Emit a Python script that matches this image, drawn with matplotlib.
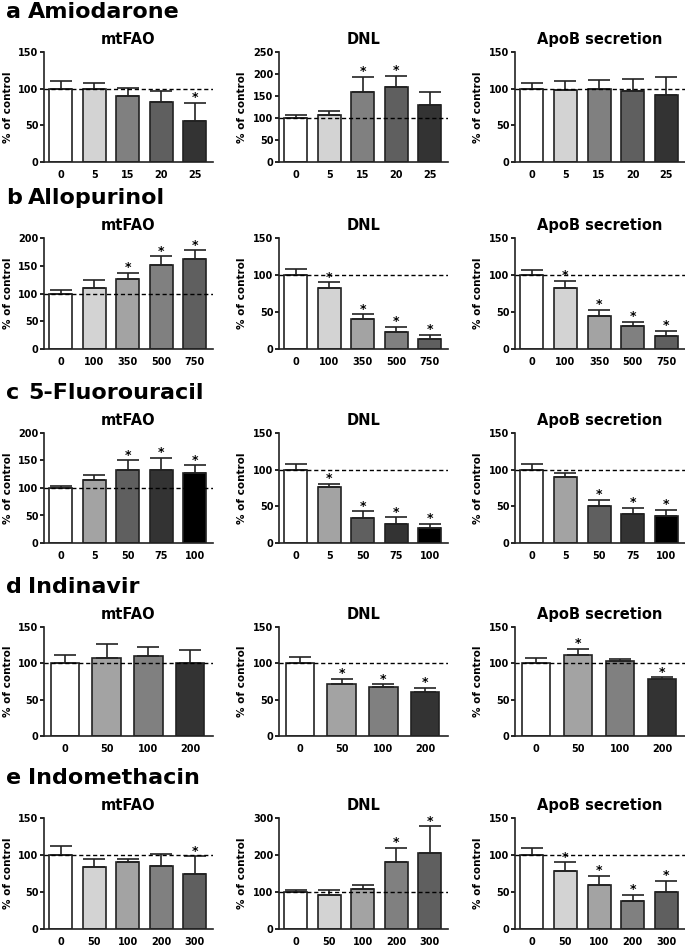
import matplotlib.pyplot as plt

# dose labels for each drug
amio_doses = ["0", "5", "15", "20", "25"]
allo_doses = ["0", "100", "350", "500", "750"]
fu_doses = ["0", "5", "50", "75", "100"]
indi_doses = ["0", "50", "100", "200"]
indo_doses = ["0", "50", "100", "200", "300"]

# mean % of control, upper error, significant (1) or not
amio_fao = [100, 100, 90, 82, 56]
amio_fao_err = [10, 8, 11, 15, 25]
amio_fao_sig = [0, 0, 0, 0, 1]
amio_dnl = [100, 107, 158, 171, 129]
amio_dnl_err = [7, 10, 35, 25, 30]
amio_dnl_sig = [0, 0, 1, 1, 0]
amio_apob = [100, 98, 99, 97, 92]
amio_apob_err = [8, 12, 13, 16, 24]
amio_apob_sig = [0, 0, 0, 0, 0]

allo_fao = [100, 110, 127, 152, 163]
allo_fao_err = [7, 15, 10, 15, 15]
allo_fao_sig = [0, 0, 1, 1, 1]
allo_dnl = [100, 82, 41, 23, 13]
allo_dnl_err = [8, 8, 6, 7, 6]
allo_dnl_sig = [0, 1, 1, 1, 1]
allo_apob = [100, 82, 44, 31, 18]
allo_apob_err = [7, 10, 9, 6, 7]
allo_apob_sig = [0, 1, 1, 1, 1]

fu_fao = [100, 115, 133, 132, 128]
fu_fao_err = [3, 8, 17, 23, 13]
fu_fao_sig = [0, 0, 1, 1, 1]
fu_dnl = [100, 77, 34, 26, 21]
fu_dnl_err = [8, 4, 9, 9, 5]
fu_dnl_sig = [0, 1, 1, 1, 1]
fu_apob = [100, 90, 50, 40, 37]
fu_apob_err = [8, 6, 9, 8, 8]
fu_apob_sig = [0, 0, 1, 1, 1]

indi_fao = [100, 107, 110, 100]
indi_fao_err = [12, 20, 12, 19]
indi_fao_sig = [0, 0, 0, 0]
indi_dnl = [100, 72, 67, 61]
indi_dnl_err = [9, 7, 4, 5]
indi_dnl_sig = [0, 1, 1, 1]
indi_apob = [100, 112, 103, 78]
indi_apob_err = [8, 8, 3, 3]
indi_apob_sig = [0, 1, 0, 1]

indo_fao = [100, 84, 91, 85, 75]
indo_fao_err = [12, 10, 4, 16, 23]
indo_fao_sig = [0, 0, 0, 0, 1]
indo_dnl = [100, 91, 108, 182, 205]
indo_dnl_err = [5, 15, 10, 37, 73]
indo_dnl_sig = [0, 0, 0, 1, 1]
indo_apob = [100, 78, 60, 38, 50]
indo_apob_err = [10, 12, 12, 8, 15]
indo_apob_sig = [0, 1, 1, 1, 1]

letters = ["a", "b", "c", "d", "e"]
drugs = ["Amiodarone", "Allopurinol", "5-Fluorouracil", "Indinavir", "Indomethacin"]
assays = ["mtFAO", "DNL", "ApoB secretion"]
doses = [amio_doses, allo_doses, fu_doses, indi_doses, indo_doses]
data = [
    [(amio_fao, amio_fao_err, amio_fao_sig), (amio_dnl, amio_dnl_err, amio_dnl_sig), (amio_apob, amio_apob_err, amio_apob_sig)],
    [(allo_fao, allo_fao_err, allo_fao_sig), (allo_dnl, allo_dnl_err, allo_dnl_sig), (allo_apob, allo_apob_err, allo_apob_sig)],
    [(fu_fao, fu_fao_err, fu_fao_sig), (fu_dnl, fu_dnl_err, fu_dnl_sig), (fu_apob, fu_apob_err, fu_apob_sig)],
    [(indi_fao, indi_fao_err, indi_fao_sig), (indi_dnl, indi_dnl_err, indi_dnl_sig), (indi_apob, indi_apob_err, indi_apob_sig)],
    [(indo_fao, indo_fao_err, indo_fao_sig), (indo_dnl, indo_dnl_err, indo_dnl_sig), (indo_apob, indo_apob_err, indo_apob_sig)],
]
ymax = [[150, 250, 150], [200, 150, 150], [200, 150, 150], [150, 150, 150], [150, 300, 150]]

# gray shades used for each drug's doses
grays = [
    ["white", "#d3d3d3", "#808080", "#5f5f5f", "#333333"],
    ["white", "#d3d3d3", "#a3a3a3", "#808080", "#5f5f5f"],
    ["white", "#a3a3a3", "#5f5f5f", "#333333", "black"],
    ["white", "#a3a3a3", "#808080", "#333333"],
    ["white", "#d3d3d3", "#a3a3a3", "#808080", "#5f5f5f"],
]

W, H = 685, 946
fig = plt.figure(figsize=(W / 100, H / 100), dpi=100)

col_left = [44, 279, 515]
col_right = [213, 448, 685]
row_top = [52, 238, 433, 627, 818]
row_bot = [162, 349, 543, 736, 929]
ylab_x = [13, 247, 483]

for r in range(5):
    fig.text(6 / W, 1 - (row_top[r] - 34) / H, letters[r], fontsize=16, fontweight="bold", va="baseline")
    fig.text(28 / W, 1 - (row_top[r] - 34) / H, drugs[r], fontsize=16, fontweight="bold", va="baseline")
    for c in range(3):
        vals, errs, sig = data[r][c]
        ax = fig.add_axes([col_left[c] / W, 1 - row_bot[r] / H,
                           (col_right[c] - col_left[c]) / W, (row_bot[r] - row_top[r]) / H])
        x = list(range(len(vals)))
        ax.bar(x, vals, width=0.68, color=grays[r], edgecolor="#222222", linewidth=1.2, zorder=2)
        ax.errorbar(x, vals, yerr=[[0] * len(vals), errs], fmt="none", ecolor="#222222",
                    elinewidth=1.2, capsize=8, capthick=1.2, zorder=3)
        ax.axhline(100, color="black", linestyle=(0, (3, 2)), linewidth=1, zorder=4)
        for i in x:
            if sig[i]:
                ax.annotate("*", (i, vals[i] + errs[i]), xytext=(0, -1), textcoords="offset points",
                            ha="center", va="bottom", fontsize=9, fontweight="bold")
        ax.set_xlim(-0.5, len(vals) - 0.45)
        ax.set_ylim(0, ymax[r][c])
        step = 100 if ymax[r][c] == 300 else 50
        ax.set_yticks(range(0, ymax[r][c] + 1, step))
        ax.set_xticks(x)
        ax.set_xticklabels(doses[r])
        ax.tick_params(axis="x", length=0, pad=6, labelsize=7)
        ax.tick_params(axis="y", length=3, width=1.2, pad=1, labelsize=7)
        for lab in ax.get_xticklabels() + ax.get_yticklabels():
            lab.set_fontweight("bold")
        for s in ["top", "right"]:
            ax.spines[s].set_visible(False)
        for s in ["left", "bottom"]:
            ax.spines[s].set_linewidth(1.2)
            ax.spines[s].set_color("#222222")
        ax.set_ylabel("% of control", fontsize=7.5, fontweight="bold")
        ax.yaxis.set_label_coords((ylab_x[c] - col_left[c]) / (col_right[c] - col_left[c]), 0.5)
        ax.set_title(assays[c], fontsize=10.5, fontweight="bold", pad=6)

fig.savefig("out.png", dpi=100)
